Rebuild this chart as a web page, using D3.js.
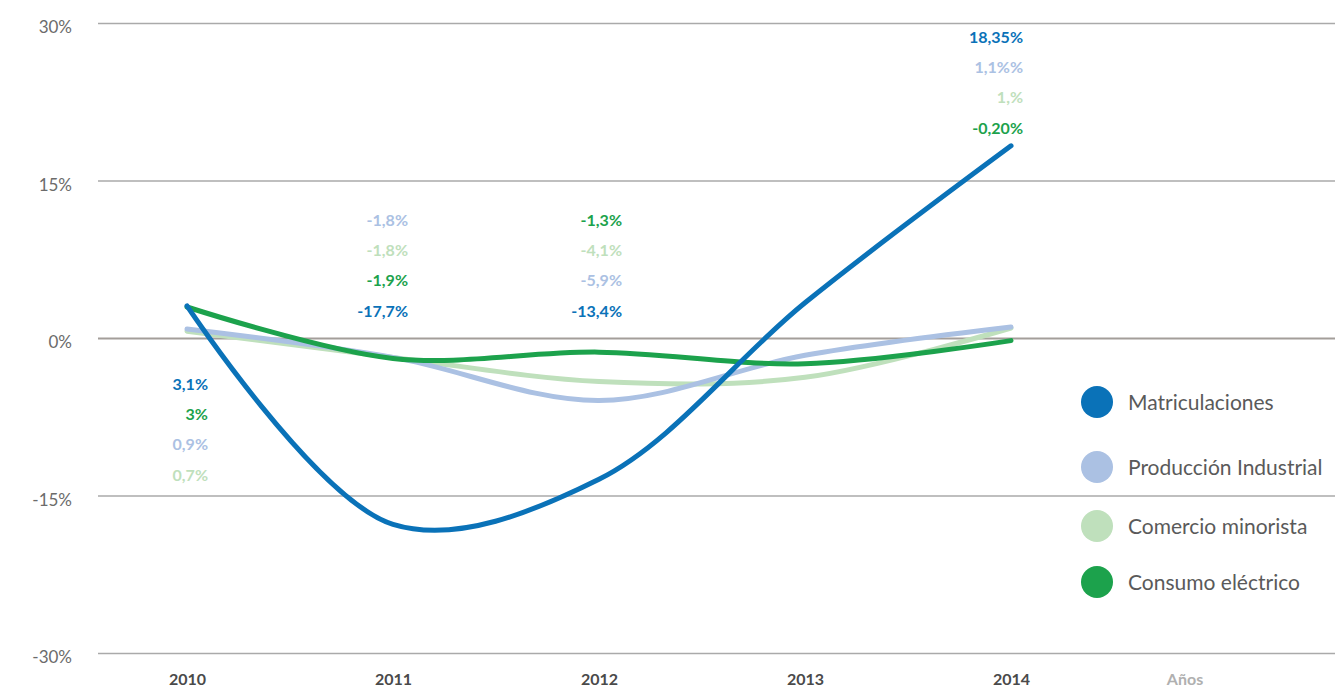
<!DOCTYPE html>
<html>
<head>
<meta charset="utf-8">
<script src="https://cdn.jsdelivr.net/npm/d3@7"></script>
<style>
  body { margin: 0; background: #fff; }
  svg { display: block; font-family: Lato, "Open Sans", sans-serif; }
</style>
</head>
<body>
<div id="chart"></div>
<script>
// Data
var years = ["2010", "2011", "2012", "2013", "2014"];
var yTicks = [30, 15, 0, -15, -30];

var matriculaciones = [3.1, -17.7, -13.4, 3.4, 18.35];
var produccion = [0.9, -1.8, -5.9, -1.6, 1.1];
var comercio = [0.7, -1.8, -4.1, -3.7, 1.0];
var consumo = [3.0, -1.9, -1.3, -2.4, -0.2];

var labelsMatric = ["3,1%", "-17,7%", "-13,4%", null, "18,35%"];
var labelsProd = ["0,9%", "-1,8%", "-5,9%", null, "1,1%%"];
var labelsCom = ["0,7%", "-1,8%", "-4,1%", null, "1,%"];
var labelsCons = ["3%", "-1,9%", "-1,3%", null, "-0,20%"];

var seriesNames = ["Matriculaciones", "Producción Industrial", "Comercio minorista", "Consumo eléctrico"];
var colors = ["#0a72b8", "#abc1e3", "#bfe0bc", "#1ca24c"];

var series = [
  { name: seriesNames[0], values: matriculaciones, labels: labelsMatric, color: colors[0] },
  { name: seriesNames[1], values: produccion, labels: labelsProd, color: colors[1] },
  { name: seriesNames[2], values: comercio, labels: labelsCom, color: colors[2] },
  { name: seriesNames[3], values: consumo, labels: labelsCons, color: colors[3] }
];

// Layout
var svgWidth = 1335;
var svgHeight = 687;

var svg = d3.select("#chart")
  .append("svg")
  .attr("width", svgWidth)
  .attr("height", svgHeight);

var x = d3.scalePoint()
  .domain(years)
  .range([187, 1011]);

var y = d3.scaleLinear()
  .domain([-30, 30])
  .range([653.5, 23.5]);

// gridlines
svg.append("g")
  .selectAll("line")
  .data(yTicks)
  .enter()
  .append("line")
  .attr("x1", 98)
  .attr("x2", svgWidth)
  .attr("y1", d => y(d))
  .attr("y2", d => y(d))
  .attr("stroke", d => d === 0 ? "#a39e9a" : "#aaaaaa")
  .attr("stroke-width", d => d === 0 ? 2.2 : 1.3);

// y axis labels
var yAxis = d3.axisLeft(y)
  .tickValues(yTicks)
  .tickSize(0)
  .tickPadding(0)
  .tickFormat(d => d + "%");

svg.append("g")
  .attr("transform", "translate(72,0)")
  .call(yAxis)
  .call(g => g.select(".domain").remove())
  .call(g => g.selectAll("text")
    .attr("dy", "0.55em")
    .attr("font-family", "Lato, sans-serif")
    .attr("font-size", "17px")
    .attr("fill", "#6b6b6b"));

// x axis labels
var xAxis = d3.axisBottom(x).tickSize(0).tickPadding(0);

svg.append("g")
  .attr("transform", "translate(0,673)")
  .call(xAxis)
  .call(g => g.select(".domain").remove())
  .call(g => g.selectAll("text")
    .attr("dy", "0.75em")
    .attr("font-family", "Lato, sans-serif")
    .attr("font-size", "16px")
    .attr("font-weight", "bold")
    .attr("fill", "#4a4a4a"));

svg.append("text")
  .attr("x", 1185)
  .attr("y", 685)
  .attr("text-anchor", "middle")
  .attr("font-size", "16px")
  .attr("font-weight", "bold")
  .attr("fill", "#b0b0b0")
  .text("Años");

// lines
var line = d3.line()
  .x((d, i) => x(years[i]))
  .y(d => y(d))
  .curve(d3.curveCatmullRom.alpha(0.5));

var drawOrder = [2, 1, 3, 0];
svg.append("g")
  .selectAll("path")
  .data(drawOrder.map(i => series[i]))
  .enter()
  .append("path")
  .attr("d", d => line(d.values))
  .attr("fill", "none")
  .attr("stroke", d => d.color)
  .attr("stroke-width", 5)
  .attr("stroke-linecap", "round")
  .attr("stroke-linejoin", "round");

// value annotations: per column, the row order of series and first row y
var columns = [
  { year: "2010", dx: 21, top: 384, order: [0, 3, 1, 2] },
  { year: "2011", dx: 15, top: 220, order: [1, 2, 3, 0] },
  { year: "2012", dx: 23, top: 220, order: [3, 2, 1, 0] },
  { year: "2014", dx: 12, top: 37, order: [0, 1, 2, 3] }
];

columns.forEach(function(col) {
  var idx = years.indexOf(col.year);
  col.order.forEach(function(s, row) {
    svg.append("text")
      .attr("x", x(col.year) + col.dx)
      .attr("y", col.top + row * 30.3)
      .attr("dy", "0.35em")
      .attr("text-anchor", "end")
      .attr("font-size", "16px")
      .attr("font-weight", "bold")
      .attr("fill", series[s].color)
      .text(series[s].labels[idx]);
  });
});

// legend
var legendY = [402, 467, 526, 582];
var legend = svg.append("g")
  .selectAll("g")
  .data(series)
  .enter()
  .append("g")
  .attr("transform", (d, i) => `translate(1097, ${legendY[i]})`);

legend.append("circle")
  .attr("r", 16)
  .attr("fill", d => d.color);

legend.append("text")
  .attr("x", 31)
  .attr("dy", "0.36em")
  .attr("font-size", "21px")
  .attr("fill", "#5a5a5a")
  .text(d => d.name);
</script>
</body>
</html>
